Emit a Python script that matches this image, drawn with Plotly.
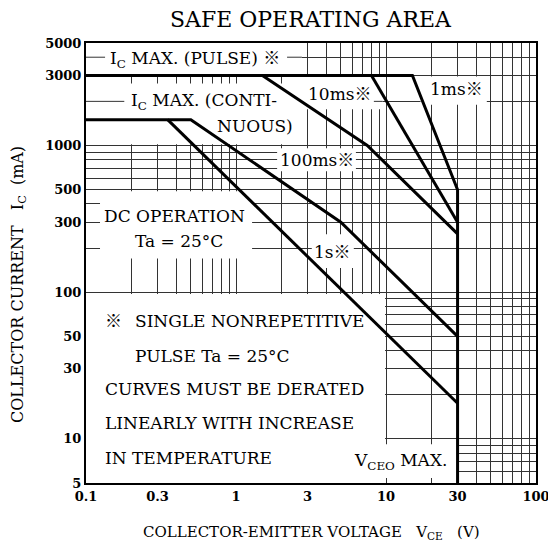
import math
import plotly.graph_objects as go

# ---- data (V in volts, I in mA) ----
pulse_1ms_v = [0.1, 15, 30, 30]
pulse_1ms_i = [3000, 3000, 500, 5]
pulse_10ms_v = [8, 30]
pulse_10ms_i = [3000, 300]
pulse_100ms_v = [1.5, 7.5, 30]
pulse_100ms_i = [3000, 1000, 250]
pulse_1s_v = [0.1, 0.5, 5, 30]
pulse_1s_i = [1500, 1500, 300, 50]
dc_v = [0.35, 30]
dc_i = [1500, 17.5]

x_grid = [0.1, 0.2, 0.3, 0.4, 0.5, 0.6, 0.7, 0.8, 0.9,
          1, 2, 3, 4, 5, 6, 7, 8, 9,
          10, 20, 30, 40, 50, 60, 70, 80, 90, 100]
x_labels = {0.1: "0.1", 0.3: "0.3", 1: "1", 3: "3", 10: "10", 30: "30", 100: "100"}
y_grid = [5, 6, 7, 8, 9, 10, 20, 30, 40, 50, 60, 70, 80, 90,
          100, 200, 300, 400, 500, 600, 700, 800, 900,
          1000, 2000, 3000, 4000, 5000]
y_labels = {5: "5", 10: "10", 30: "30", 50: "50", 100: "100", 300: "300",
            500: "500", 1000: "1000", 3000: "3000", 5000: "5000"}

# white areas behind labels (x0, x1, y0, y1) in data units
masks = [
    (0.1, 2.75, 3000, 5000),
    (0.1, 2.67, 1020, 2650),
    (2.67, 9.5, 1770, 3000),
    (17, 47, 1900, 2950),
    (1.88, 6.3, 668, 958),
    (0.124, 1.28, 170, 488),
    (3.2, 6.1, 146, 248),
    (0.1, 9.85, 5, 97),
    (9.7, 30, 5.4, 9.2),
]
# grid pieces that stay visible next to labels (x0, x1, y)
grid_bits = [
    (0.1, 0.134, 4000),
    (2.19, 2.75, 4000),
    (0.1, 0.18, 2000),
    (8.3, 9.5, 2000),
]

SERIF = "DejaVu Serif, Liberation Serif, Noto Sans CJK JP, serif"
GRID = "#333333"
SP = "\u00a0"

fig = go.Figure()

for (x0, x1, y0, y1) in masks:
    fig.add_trace(go.Scatter(x=[x0, x1, x1, x0, x0], y=[y0, y0, y1, y1, y0],
                             mode="lines", fill="toself", fillcolor="white",
                             line=dict(width=0, color="white"), hoverinfo="skip",
                             showlegend=False))
for (x0, x1, yy) in grid_bits:
    fig.add_trace(go.Scatter(x=[x0, x1], y=[yy, yy], mode="lines",
                             line=dict(width=1, color=GRID), hoverinfo="skip",
                             showlegend=False))

for vx, iy in [(pulse_1ms_v, pulse_1ms_i), (pulse_10ms_v, pulse_10ms_i),
               (pulse_100ms_v, pulse_100ms_i), (pulse_1s_v, pulse_1s_i),
               (dc_v, dc_i)]:
    fig.add_trace(go.Scatter(x=vx, y=iy, mode="lines",
                             line=dict(width=3, color="black"),
                             hoverinfo="skip", showlegend=False))

L = math.log10

def ann(text, x, y, xanchor="center", size=17):
    fig.add_annotation(text=text, x=L(x), y=L(y), xref="x", yref="y",
                       showarrow=False, xanchor=xanchor, yanchor="middle",
                       font=dict(family=SERIF, size=size, color="black"))

ann("I<sub>C</sub> MAX. (PULSE) ※", 0.533, 3870)
ann("I<sub>C</sub> MAX. (CONTI-", 0.612, 2005)
ann("NUOUS)", 1.34, 1354)
ann("10ms※", 4.9, 2237)
ann("1ms※", 29.3, 2420)
ann("100ms※", 3.49, 800)
ann("1s※", 4.40, 189)
ann("DC OPERATION", 0.392, 330)
ann("Ta = 25°C", 0.417, 223)
ann("※", 0.13, 63.4, "left")
ann("SINGLE NONREPETITIVE", 0.206, 63.4, "left")
ann("PULSE Ta = 25°C", 0.206, 36.6, "left")
ann("CURVES MUST BE DERATED", 0.13, 21.8, "left")
ann("LINEARLY WITH INCREASE", 0.13, 12.8, "left")
ann("IN TEMPERATURE", 0.13, 7.44, "left")
ann("V<sub>CEO</sub> MAX.", 12.4, 7.05)

fig.add_annotation(text="SAFE OPERATING AREA", x=0.5, y=1.054, xref="paper",
                   yref="paper", xanchor="center", yanchor="middle", showarrow=False,
                   font=dict(family=SERIF, size=22, color="black"))
fig.add_annotation(text="COLLECTOR-EMITTER VOLTAGE" + SP * 3 + "V<sub>CE</sub>" + SP * 3 + "(V)",
                   x=0.5, y=-0.113, xref="paper", yref="paper", xanchor="center",
                   yanchor="middle", showarrow=False,
                   font=dict(family=SERIF, size=15, color="black"))
fig.add_annotation(text="COLLECTOR CURRENT" + SP * 3 + "I<sub>C</sub>" + SP * 2 + "(mA)",
                   x=-0.151, y=0.45, xref="paper", yref="paper", xanchor="center",
                   yanchor="middle", showarrow=False, textangle=-90,
                   font=dict(family=SERIF, size=16, color="black"))

fig.update_xaxes(type="log", range=[-1, 2], tickvals=x_grid,
                 ticktext=[x_labels.get(v, "") for v in x_grid],
                 showgrid=True, gridcolor=GRID, gridwidth=1, ticks="",
                 showline=True, linecolor="black", linewidth=2, mirror=True,
                 zeroline=False, automargin=False,
                 tickfont=dict(family=SERIF, size=13, color="black", weight="bold"))
fig.update_yaxes(type="log", range=[L(5), L(5000)], tickvals=y_grid,
                 ticktext=[y_labels.get(v, "") for v in y_grid],
                 showgrid=True, gridcolor=GRID, gridwidth=1, ticks="",
                 showline=True, linecolor="black", linewidth=2, mirror=True,
                 zeroline=False, automargin=False,
                 tickfont=dict(family=SERIF, size=13, color="black", weight="bold"))

# page body adds an 8px margin, so the figure is sized to fit inside it
fig.update_layout(width=548, height=542, margin=dict(l=78, r=20, t=35, b=67),
                  plot_bgcolor="white", paper_bgcolor="white", showlegend=False,
                  hovermode=False)

fig.write_html("out.html")
